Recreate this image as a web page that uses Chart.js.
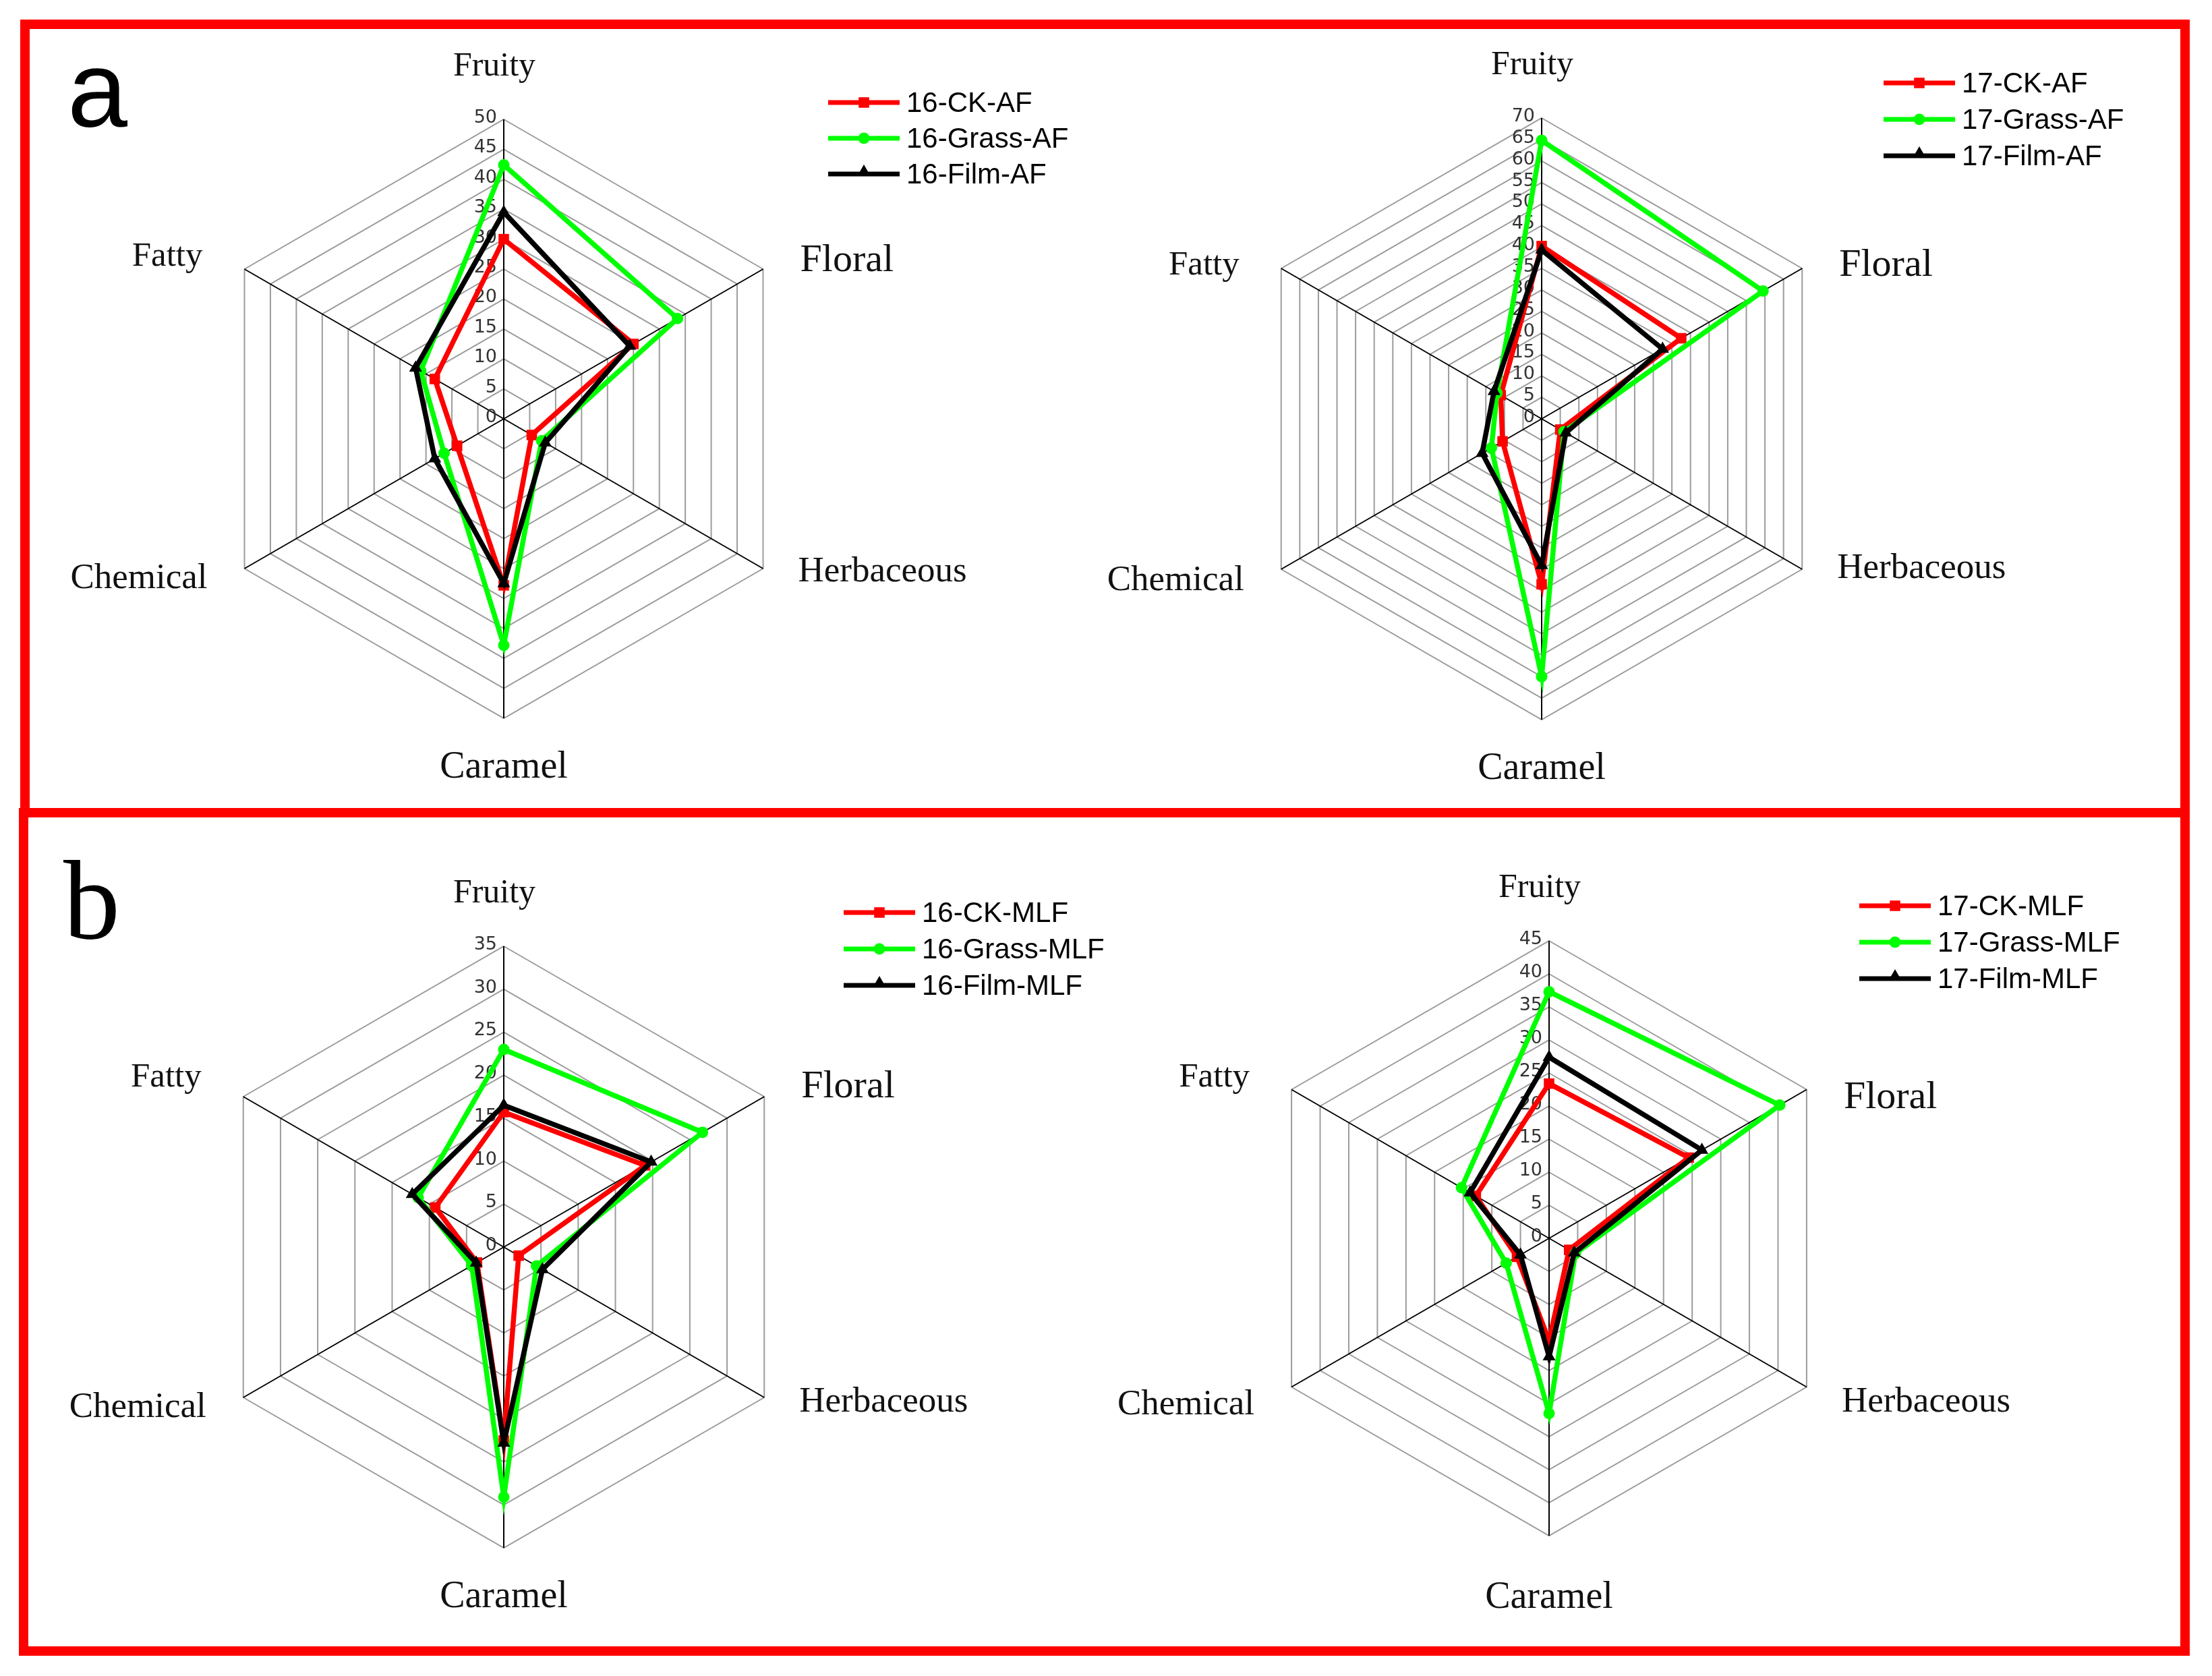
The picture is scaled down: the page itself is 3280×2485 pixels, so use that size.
<!DOCTYPE html>
<html>
<head>
<meta charset="utf-8">
<script src="https://cdn.jsdelivr.net/npm/chart.js@4.4.1/dist/chart.umd.min.js"></script>
<style>
  body { margin: 0; background: #fff; }
  #page { position: relative; width: 3280px; height: 2485px; background: #fff; overflow: hidden; }
  .box { position: absolute; border: 14px solid #ff0000; box-sizing: border-box; }
  .tag { position: absolute; color: #000; line-height: 1; }
  canvas { position: absolute; }
</style>
</head>
<body>
<div id="page">
  <div class="box" style="left:30px; top:29px; width:3217px; height:1183px;"></div>
  <div class="box" style="left:28px; top:1198px; width:3219px; height:1257px;"></div>
  <div class="tag" style="left:100px; top:40px; font: 160px 'Liberation Sans', sans-serif;">a</div>
  <div class="tag" style="left:94px; top:1238px; font: 168px 'Liberation Serif', serif;">b</div>
  <canvas id="c1" width="1750" height="1150" style="left:44px; top:43px;"></canvas>
  <canvas id="c3" width="1750" height="1228" style="left:44px; top:1212px;"></canvas>
  <canvas id="c2" width="1609" height="1150" style="left:1624px; top:43px;"></canvas>
  <canvas id="c4" width="1609" height="1228" style="left:1624px; top:1212px;"></canvas>
</div>
<script>
const categories = ['Fruity', 'Floral', 'Herbaceous', 'Caramel', 'Chemical', 'Fatty'];

// a: after alcoholic fermentation
const ck16AF    = [30, 25, 5.4, 27.8, 9, 13.3];
const grass16AF = [42.4, 33.5, 7.3, 37.8, 11.5, 16];
const film16AF  = [34.5, 24.3, 8, 27.5, 13.3, 17];

const ck17AF    = [40.2, 37.5, 5, 38.5, 10.5, 11];
const grass17AF = [64.8, 59.5, 6, 60, 13.5, 12];
const film17AF  = [39.3, 32.5, 6.5, 34.1, 16, 12.8];

// b: after malolactic fermentation
const ck16MLF    = [15.7, 19, 2, 22.5, 3.6, 9.2];
const grass16MLF = [23, 26.7, 4.4, 29.1, 4.3, 11.5];
const film16MLF  = [16.5, 19.8, 5.2, 22.8, 3.7, 12.3];

const ck17MLF    = [23.4, 24.4, 3.5, 15.5, 5.6, 12.8];
const grass17MLF = [37.3, 40.3, 4.6, 26.5, 7.5, 15.3];
const film17MLF  = [27.4, 26.7, 4.4, 17.9, 5, 13.8];

const axisMax = [50, 70, 35, 45];
const tickStep = 5;

const names16AF = ['16-CK-AF', '16-Grass-AF', '16-Film-AF'];
const names17AF = ['17-CK-AF', '17-Grass-AF', '17-Film-AF'];
const names16MLF = ['16-CK-MLF', '16-Grass-MLF', '16-Film-MLF'];
const names17MLF = ['17-CK-MLF', '17-Grass-MLF', '17-Film-MLF'];

const seriesLook = [
    { color: '#ff0000', pointStyle: 'rect', radius: 11, order: 2 },
    { color: '#00ff00', pointStyle: 'circle', radius: 8.5, order: 1 },
    { color: '#000000', pointStyle: 'triangle', radius: 11, order: 0 }
];

// label placement around each hexagon vertex: [dx, dy, align]
const labelOffsets = [[-14, -78, 'center'], [55, -8, 'left'], [52, -1, 'left'],
                      [0, 73, 'center'], [-55, 15, 'right'], [-62, -18, 'right']];
const labelSizes = [50, 58, 53, 56, 53, 51];

function marker(ctx, style, x, y, r) {
    ctx.beginPath();
    if (style === 'rect') {
        const s = Math.SQRT1_2 * r;
        ctx.rect(x - s, y - s, 2 * s, 2 * s);
    } else if (style === 'circle') {
        ctx.arc(x, y, r, 0, Math.PI * 2);
    } else {
        ctx.moveTo(x, y - r);
        ctx.lineTo(x + r * 0.866, y + r * 0.5);
        ctx.lineTo(x - r * 0.866, y + r * 0.5);
        ctx.closePath();
    }
    ctx.fill();
}

const radarText = {
    id: 'radarText',
    beforeDatasetsDraw(chart) {
        const s = chart.scales.r;
        const ctx = chart.ctx;
        ctx.save();
        ctx.font = '27px "DejaVu Sans", sans-serif';
        ctx.fillStyle = '#333';
        ctx.textAlign = 'right';
        ctx.textBaseline = 'middle';
        s.ticks.forEach(t => {
            const d = s.getDistanceFromCenterForValue(t.value);
            ctx.fillText(String(t.value), s.xCenter - 10, s.yCenter - d - 2);
        });
        ctx.restore();
    },
    afterDraw(chart, args, opts) {
        const s = chart.scales.r;
        const ctx = chart.ctx;
        const shift = opts.shift || [0, 0, 0, 0, 0, 0];
        ctx.save();
        ctx.fillStyle = '#111';
        ctx.textBaseline = 'middle';
        chart.data.labels.forEach((lab, i) => {
            const p = s.getPointPosition(i, s.drawingArea);
            const [dx, dy, al] = labelOffsets[i];
            ctx.font = labelSizes[i] + 'px "Liberation Serif", "Times New Roman", serif';
            ctx.textAlign = al;
            ctx.fillText(lab, p.x + dx, p.y + dy + shift[i]);
        });
        // legend
        ctx.font = '42px "Liberation Sans", Arial, sans-serif';
        ctx.textAlign = 'left';
        chart.data.datasets.forEach((ds, i) => {
            const x = opts.lx, y = opts.ly + i * opts.gap;
            ctx.strokeStyle = ds.borderColor;
            ctx.fillStyle = ds.borderColor;
            ctx.lineWidth = 7;
            ctx.beginPath();
            ctx.moveTo(x, y);
            ctx.lineTo(x + 106, y);
            ctx.stroke();
            marker(ctx, ds.pointStyle, x + 53, y - (ds.pointStyle === 'triangle' ? 3 : 0), ds.pointRadius);
            ctx.fillStyle = '#000';
            ctx.fillText(ds.label, x + 116, y + 2);
        });
        ctx.restore();
    }
};

function makeRadar(id, names, series, max, cx, cy, r, legendX, legendY, gap, shift) {
    const cv = document.getElementById(id);
    const left = parseFloat(cv.style.left), top = parseFloat(cv.style.top);
    const pad = {
        left: cx - r - left,
        right: left + cv.width - (cx + r),
        top: cy - r - top,
        bottom: top + cv.height - (cy + r)
    };
    return new Chart(cv, {
        type: 'radar',
        data: {
            labels: categories,
            datasets: series.map((vals, i) => ({
                label: names[i],
                data: vals,
                borderColor: seriesLook[i].color,
                backgroundColor: seriesLook[i].color,
                pointBackgroundColor: seriesLook[i].color,
                pointBorderColor: seriesLook[i].color,
                pointBorderWidth: 0,
                pointStyle: seriesLook[i].pointStyle,
                pointRadius: seriesLook[i].radius,
                borderWidth: 7.5,
                fill: false,
                order: seriesLook[i].order
            }))
        },
        options: {
            responsive: false,
            animation: false,
            layout: { padding: pad },
            elements: { line: { tension: 0 } },
            scales: {
                r: {
                    min: 0,
                    max: max,
                    ticks: { stepSize: tickStep, display: false },
                    pointLabels: { display: false },
                    grid: { color: '#9c9c9c', lineWidth: 2 },
                    angleLines: { color: '#000', lineWidth: 2 }
                }
            },
            plugins: {
                legend: { display: false },
                tooltip: { enabled: false },
                radarText: { lx: legendX - left, ly: legendY - top, gap: gap, shift: shift }
            }
        },
        plugins: [radarText]
    });
}

makeRadar('c1', names16AF, [ck16AF, grass16AF, film16AF], axisMax[0], 747, 621, 444, 1228, 152, 53,
    [0, -4, 6, 0, 0, 0]);
makeRadar('c2', names17AF, [ck17AF, grass17AF, film17AF], axisMax[1], 2286, 621, 446, 2793, 123, 54,
    [0, 4, 0, 0, 2, 14]);
makeRadar('c3', names16MLF, [ck16MLF, grass16MLF, film16MLF], axisMax[2], 747, 1849, 446, 1251, 1353, 54,
    [0, -6, 8, 0, 0, -10]);
makeRadar('c4', names17MLF, [ck17MLF, grass17MLF, film17MLF], axisMax[3], 2297, 1836, 441, 2757, 1343, 54,
    [0, 20, 24, 19, 12, 0]);
</script>
</body>
</html>
